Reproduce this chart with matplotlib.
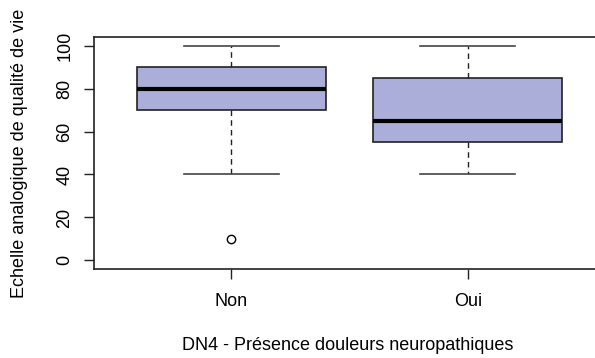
import matplotlib
matplotlib.use("Agg")
import matplotlib.pyplot as plt

plt.rcParams["font.family"] = ["Liberation Sans", "DejaVu Sans"]

# Box statistics
groups = ["Non", "Oui"]
whisker_low = [40, 40]
q1 = [70, 55]
median = [80, 65]
q3 = [90, 85]
whisker_high = [100, 100]
outliers = [[10], []]

stats = [
    {
        "label": g,
        "whislo": whisker_low[i],
        "q1": q1[i],
        "med": median[i],
        "q3": q3[i],
        "whishi": whisker_high[i],
        "fliers": outliers[i],
    }
    for i, g in enumerate(groups)
]

fig = plt.figure(figsize=(5.95, 3.58), dpi=100)
ax = fig.add_axes([94 / 595, 1 - 269 / 358, 511 / 595, 232 / 358])

ax.bxp(
    stats,
    positions=[1, 2],
    widths=0.8,
    patch_artist=True,
    showfliers=True,
    boxprops=dict(facecolor="#aaaed8", edgecolor="#222222", linewidth=1.2),
    medianprops=dict(color="black", linewidth=3),
    whiskerprops=dict(color="#222222", linestyle=(0, (4, 3)), linewidth=1),
    capprops=dict(color="#444444", linewidth=1.2),
    capwidths=0.4,
    flierprops=dict(marker="o", markerfacecolor="none", markeredgecolor="black",
                    markersize=6, markeredgewidth=1),
)

ax.set_xlim(0.42, 2.58)
ax.set_ylim(-4, 104)
ax.set_yticks([0, 20, 40, 60, 80, 100])
ax.set_xticks([1, 2])
ax.set_xticklabels(groups)
for lab in ax.get_yticklabels():
    lab.set_rotation(90)
    lab.set_va("center")
ax.tick_params(axis="both", labelsize=13, length=7, width=1, color="#222222")
ax.tick_params(axis="x", pad=10)
ax.tick_params(axis="y", pad=8)
for s in ax.spines.values():
    s.set_linewidth(1.2)
    s.set_color("#222222")

fig.text(20 / 595, 1 - 153 / 358, "Echelle analogique de qualité de vie",
         rotation=90, ha="center", va="center", fontsize=13)
fig.text(348 / 595, 1 - 345 / 358, "DN4 - Présence douleurs neuropathiques",
         ha="center", va="center", fontsize=13)

fig.savefig("out.png", dpi=100)
